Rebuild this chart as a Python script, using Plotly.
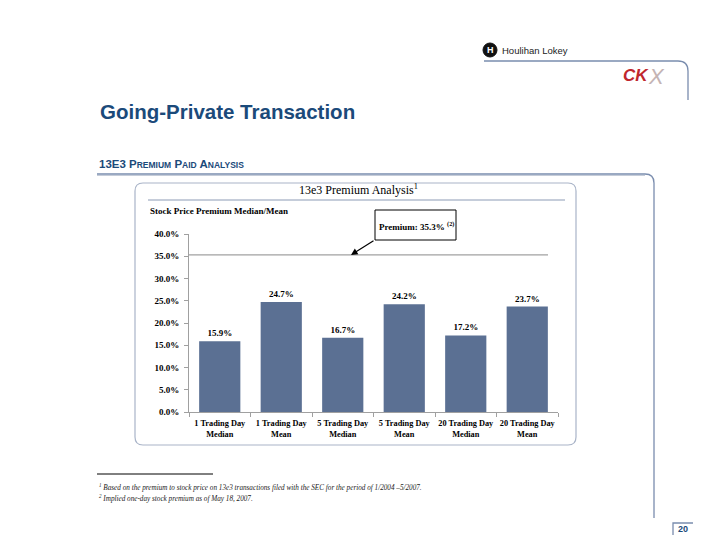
import plotly.graph_objects as go

categories = ["1 Trading Day<br>Median", "1 Trading Day<br>Mean", "5 Trading Day<br>Median",
              "5 Trading Day<br>Mean", "20 Trading Day<br>Median", "20 Trading Day<br>Mean"]
premiums = [15.9, 24.7, 16.7, 24.2, 17.2, 23.7]
implied_premium = [35.3]
y_ticks = [0, 5, 10, 15, 20, 25, 30, 35, 40]

W, H = 720, 556
L, R, T, B = 189, 558, 234, 412  # plot area pixels


def px(x):
    return (x - L) / (R - L)


def py(y):
    return (B - y) / (B - T)


def path(cmds):
    out = []
    for c in cmds:
        if isinstance(c, str):
            out.append(c)
        else:
            out.append(f"{px(c[0]):.5f},{py(c[1]):.5f}")
    return " ".join(out)


def rrect(x0, y0, x1, y1, r):
    return path(["M", (x0 + r, y0), "L", (x1 - r, y0), "Q", (x1, y0), (x1, y0 + r),
                 "L", (x1, y1 - r), "Q", (x1, y1), (x1 - r, y1),
                 "L", (x0 + r, y1), "Q", (x0, y1), (x0, y1 - r),
                 "L", (x0, y0 + r), "Q", (x0, y0), (x0 + r, y0), "Z"])


SERIF = "Liberation Serif"
SANS = "Liberation Sans"
BLUE = "#1B4A7A"
FRAME = "#7A8DAE"

fig = go.Figure()
fig.add_trace(go.Bar(
    x=categories, y=premiums,
    marker=dict(color="#5B7093", line=dict(width=0)),
    texttemplate="<b>%{y:.1f}%</b>", textposition="outside",
    textfont=dict(family=SERIF, size=9, color="black"),
    cliponaxis=False, hoverinfo="skip",
))

shapes = []
# Premium line
shapes.append(dict(type="line", xref="paper", yref="y", x0=0, x1=px(548),
                   y0=implied_premium[0], y1=implied_premium[0],
                   line=dict(color="#8A8A8A", width=1)))
# inner chart frame
shapes.append(dict(type="path", xref="paper", yref="paper", path=rrect(135, 183, 576, 445, 8),
                   line=dict(color="#A9B4C8", width=1.2), fillcolor="rgba(0,0,0,0)", layer="below"))
# chart title underline
shapes.append(dict(type="line", xref="paper", yref="paper", x0=px(148), x1=px(565), y0=py(200), y1=py(200),
                   line=dict(color="#8C9BB5", width=1)))
# section frame (header line + right vertical)
shapes.append(dict(type="path", xref="paper", yref="paper",
                   path=path(["M", (97, 174), "L", (645, 174), "Q", (654, 174), (654, 183), "L", (654, 518)]),
                   line=dict(color=FRAME, width=1.3)))
shapes.append(dict(type="line", xref="paper", yref="paper", x0=px(97), x1=px(645), y0=py(175.5), y1=py(175.5),
                   line=dict(color="#C5CCD8", width=1)))
# top frame
shapes.append(dict(type="path", xref="paper", yref="paper",
                   path=path(["M", (484, 61), "L", (678, 61), "Q", (688, 61), (688, 71), "L", (688, 100)]),
                   line=dict(color=FRAME, width=1.3)))
# page number bracket
shapes.append(dict(type="path", xref="paper", yref="paper",
                   path=path(["M", (673, 535), "L", (673, 523), "L", (693, 523)]),
                   line=dict(color=FRAME, width=1.3)))
# footnote rule
shapes.append(dict(type="line", xref="paper", yref="paper", x0=px(97), x1=px(213), y0=py(474), y1=py(474),
                   line=dict(color="black", width=1)))
# Houlihan Lokey logo circle
shapes.append(dict(type="circle", xref="paper", yref="paper", x0=px(483), x1=px(497), y0=py(43), y1=py(57),
                   fillcolor="#111111", line=dict(color="#111111", width=1)))
# annotation box
shapes.append(dict(type="rect", xref="paper", yref="paper", x0=px(375), x1=px(456), y0=py(210), y1=py(240),
                   line=dict(color="black", width=1), fillcolor="white"))

ann = []


def text(x, y, s, size, family=SERIF, color="black", xanchor="left", yanchor="middle", **kw):
    ann.append(dict(x=px(x), y=py(y), xref="paper", yref="paper", text=s, showarrow=False,
                    xanchor=xanchor, yanchor=yanchor, font=dict(family=family, size=size, color=color), **kw))


text(98, 111, "<b>Going-Private Transaction</b>", 20.5, family=SANS, color=BLUE)
sc = lambda s: f"<span style='font-size:8.5px'>{s}</span>"
text(97, 164, "<b>13E3 P" + sc("<b>REMIUM</b>") + " P" + sc("<b>AID</b>") + " A" + sc("<b>NALYSIS</b>") + "</b>",
     11.5, family=SANS, color=BLUE)
text(358, 189, "13e3 Premium Analysis<sup>1</sup>", 12, xanchor="center")
text(148, 211, "<b>Stock Price Premium Median/Mean</b>", 9)
text(377, 226, "<b>Premium: 35.3%</b> <sup><b>(2)</b></sup>", 9)
text(97, 487, "<i><sup>1</sup> Based on the premium to stock price on 13e3 transactions filed with the SEC for the period of 1/2004 \u20135/2007.</i>", 7.2, color="#222222")
text(97, 498, "<i><sup>2</sup> Implied one-day stock premium as of May 18, 2007.</i>", 7.2, color="#222222")
text(490, 50, "<b>H</b>", 9, family=SANS, color="white", xanchor="center")
text(500, 50, "Houlihan Lokey", 9.5, family=SANS, color="#222222")
text(651, 75, "<b><i>CK</i></b>", 17, family=SANS, color="#C0272D", xanchor="right")
text(646, 76, "<i>X</i>", 22, family=SANS, color="#C4B4B4")
text(683, 529, "<b>20</b>", 9, family=SANS, color=BLUE, xanchor="center")

# arrow
ann.append(dict(x=px(351), y=implied_premium[0], xref="paper", yref="y", text="", showarrow=True,
                ax=24, ay=-15, arrowhead=2, arrowsize=1.1, arrowwidth=1.2, arrowcolor="black"))

fig.update_layout(
    width=W, height=H, autosize=False,
    margin=dict(l=L, r=W - R, t=T, b=H - B),
    paper_bgcolor="white", plot_bgcolor="white",
    bargap=0.33, showlegend=False,
    shapes=shapes, annotations=ann,
    xaxis=dict(showline=True, linecolor="#A0A0A0", linewidth=1, ticks="outside", tickson="boundaries",
               ticklen=4, tickcolor="#A0A0A0", tickfont=dict(family=SERIF, size=8.3, color="black"),
               tickangle=0, showgrid=False, fixedrange=True, ticklabelstandoff=3),
    yaxis=dict(range=[0, 40], tickvals=y_ticks, ticktext=[f"<b>{v:.1f}%</b>" for v in y_ticks],
               showline=True, linecolor="#A0A0A0", linewidth=1, ticks="outside", ticklen=4,
               tickcolor="#A0A0A0", tickfont=dict(family=SERIF, size=9, color="black"),
               showgrid=False, zeroline=False, ticklabelstandoff=3, fixedrange=True),
)
fig.update_xaxes(ticktext=[f"<b>{c}</b>" for c in categories], tickvals=categories)

fig.write_html("out.html")
